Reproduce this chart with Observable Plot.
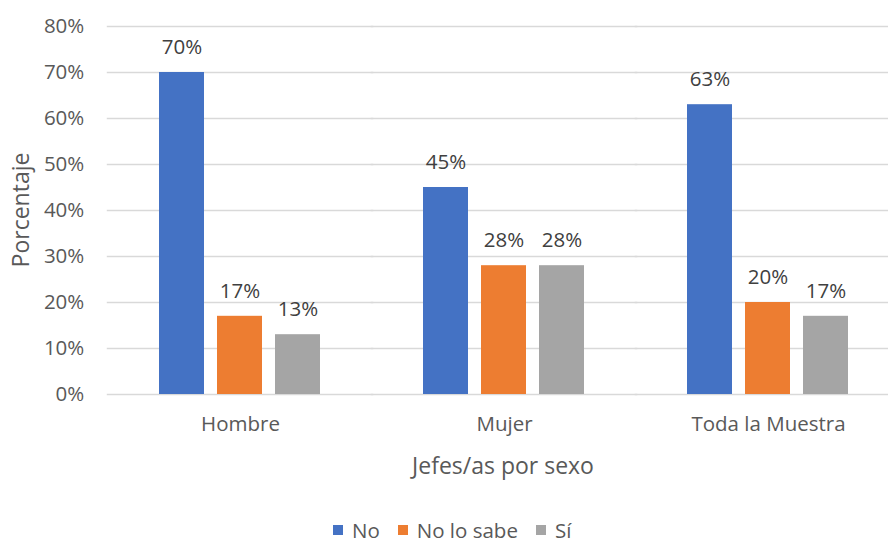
<!DOCTYPE html>
<html>
<head>
<meta charset="utf-8">
<script src="https://cdn.jsdelivr.net/npm/d3@7"></script>
<script src="https://cdn.jsdelivr.net/npm/@observablehq/plot@0.6"></script>
<style>
  html, body { margin: 0; padding: 0; background: #fff; overflow: hidden; }
  #wrap { position: relative; width: 888px; height: 543px; overflow: hidden; font-family: "Open Sans", sans-serif; color: #595959; }
  #chart svg { max-width: none !important; }
  #legend { position: absolute; top: 519px; left: 333px; display: flex; align-items: center; font-size: 20.5px; line-height: 22px; white-space: nowrap; }
  #legend .item { display: flex; align-items: center; margin-right: 18px; }
  #legend .sw { width: 10px; height: 10px; margin-right: 9px; }
  .axis-title { position: absolute; font-size: 23px; line-height: 26px; white-space: nowrap; transform: translate(-50%, -50%); }
  #ytitle { left: 20px; top: 210px; transform: translate(-50%, -50%) rotate(-90deg); }
  #xtitle { left: 503px; top: 465px; }
</style>
</head>
<body>
<div id="wrap">
  <div id="chart"></div>
  <div id="ytitle" class="axis-title">Porcentaje</div>
  <div id="xtitle" class="axis-title">Jefes/as por sexo</div>
  <div id="legend"></div>
</div>
<script>
// Jefes/as de hogar por sexo: respuesta (No / No lo sabe / Sí), en proporción
const groups = ["Hombre", "Mujer", "Toda la Muestra"];
const series = ["No", "No lo sabe", "Sí"];
const valuesNo = [0.70, 0.45, 0.63];
const valuesNoLoSabe = [0.17, 0.28, 0.20];
const valuesSi = [0.13, 0.28, 0.17];
const colors = ["#4472C4", "#ED7D31", "#A5A5A5"];
const yTicks = [0, 0.1, 0.2, 0.3, 0.4, 0.5, 0.6, 0.7, 0.8];

const bySeries = [valuesNo, valuesNoLoSabe, valuesSi];
const data = groups.flatMap((g, i) =>
  series.map((s, j) => ({group: g, series: s, value: bySeries[j][i]}))
);

const pct = d3.format(".0%");

// layout of the facet bands; gridlines stretch over the gap between groups
const width = 900, marginLeft = 107, marginRight = 0;
const fxPadInner = 0.38, fxPadOuter = 0.19;
const fxStep = (width - marginLeft - marginRight) / (groups.length - fxPadInner + 2 * fxPadOuter);
const halfGap = fxStep * fxPadOuter;

const chart = Plot.plot({
  width,
  height: 474,
  marginLeft,
  marginRight,
  marginTop: 26,
  marginBottom: 80,
  style: {fontFamily: "Open Sans, sans-serif", fontSize: "20.5px", color: "#595959", background: "white", maxWidth: "none"},
  fx: {
    domain: groups,
    paddingInner: fxPadInner,
    paddingOuter: fxPadOuter,
    axis: "bottom",
    tickSize: 0,
    tickPadding: 22,
    label: null
  },
  x: {domain: series, paddingInner: 0.22, paddingOuter: 0, axis: null},
  y: {
    domain: [0, 0.8],
    ticks: yTicks,
    tickFormat: pct,
    tickSize: 0,
    // the y axis sits at the first group's edge; pad back to the frame's left side
    tickPadding: 24 + halfGap,
    label: null
  },
  color: {domain: series, range: colors},
  marks: [
    Plot.ruleY(yTicks, {stroke: "#D9D9D9", strokeWidth: 1.5, insetLeft: -halfGap - 1, insetRight: -halfGap - 1}),
    Plot.barY(data, {fx: "group", x: "series", y: "value", fill: "series"}),
    Plot.text(data, {
      fx: "group", x: "series", y: "value",
      text: d => pct(d.value),
      dy: -25,
      fill: "#404040",
      fontSize: 20.5
    })
  ]
});
document.getElementById("chart").appendChild(chart);

// legend
const legend = document.getElementById("legend");
series.forEach((s, i) => {
  const item = document.createElement("div");
  item.className = "item";
  const sw = document.createElement("span");
  sw.className = "sw";
  sw.style.background = colors[i];
  const label = document.createElement("span");
  label.textContent = s;
  item.appendChild(sw);
  item.appendChild(label);
  legend.appendChild(item);
});
</script>
</body>
</html>
